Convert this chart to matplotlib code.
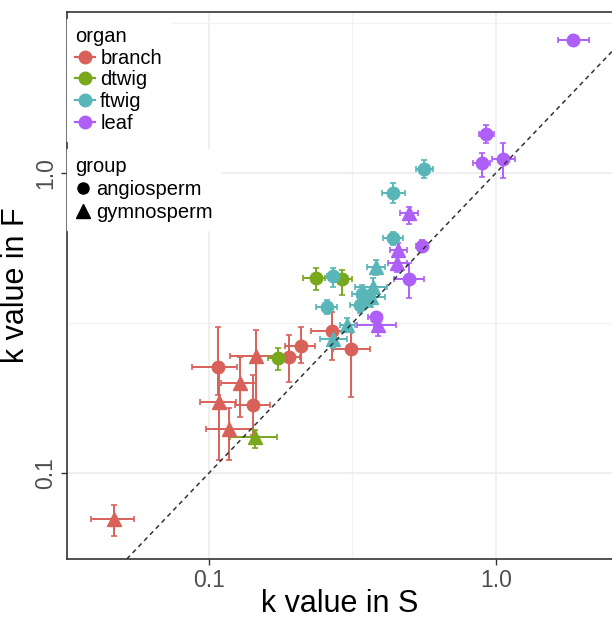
import matplotlib
matplotlib.use('Agg')
import matplotlib.pyplot as plt
from matplotlib.lines import Line2D

# ---------------- data ----------------
organ = ['branch'] * 11 + ['dtwig'] * 4 + ['ftwig'] * 12 + ['leaf'] * 11
group = (['gym', 'ang', 'gym', 'gym', 'gym', 'ang', 'gym', 'ang', 'ang', 'ang', 'ang']
         + ['ang', 'gym', 'ang', 'ang']
         + ['ang', 'ang', 'ang', 'gym', 'ang', 'gym', 'ang', 'gym', 'ang', 'ang', 'gym', 'gym']
         + ['ang', 'ang', 'ang', 'ang', 'gym', 'ang', 'gym', 'gym', 'ang', 'ang', 'gym'])

kS = [0.0467, 0.1075, 0.1458, 0.1282, 0.1083, 0.1423, 0.1174, 0.190, 0.2092, 0.2683, 0.3125,
      0.1739, 0.1446, 0.2360, 0.2906,
      0.5613, 0.4377, 0.4377, 0.3818, 0.2704, 0.3727, 0.3413, 0.3668, 0.3358, 0.2577, 0.3026, 0.2704,
      1.855, 0.9230, 0.8938, 1.058, 0.4975, 0.5524, 0.4555, 0.4518, 0.4975, 0.3818, 0.3879]
kS_lo = [0.0388, 0.0873, 0.1183, 0.1101, 0.0930, 0.1232, 0.0976, 0.1768, 0.1839, 0.2267, 0.2704,
         0.1606, 0.1183, 0.2126, 0.2748,
         0.5263, 0.4007, 0.4039, 0.3552, 0.2577, 0.3226, 0.3150, 0.3358, 0.3100, 0.2360, 0.2861, 0.2436,
         1.644, 0.8726, 0.8315, 0.9684, 0.4628, 0.5263, 0.4271, 0.4205, 0.4412, 0.3581, 0.3279]
kS_hi = [0.0548, 0.1252, 0.1725, 0.1458, 0.1242, 0.1632, 0.1423, 0.2075, 0.2340, 0.3150, 0.3639,
         0.1915, 0.1725, 0.2536, 0.3150,
         0.6034, 0.4818, 0.4742, 0.4105, 0.2861, 0.4172, 0.3698, 0.4105, 0.3698, 0.2793, 0.3226, 0.3026,
         2.109, 0.984, 0.9530, 1.165, 0.5348, 0.5795, 0.4896, 0.4896, 0.5613, 0.4007, 0.4482]

kF = [0.0703, 0.2256, 0.2455, 0.1995, 0.1724, 0.1685, 0.1401, 0.2435, 0.265, 0.2974, 0.259,
      0.2416, 0.1318, 0.4467, 0.4432,
      1.031, 0.8577, 0.6072, 0.4861, 0.4535, 0.4169, 0.395, 0.386, 0.3631, 0.3576, 0.3113, 0.2797,
      2.776, 1.349, 1.080, 1.113, 0.7356, 0.5710, 0.5540, 0.5012, 0.4432, 0.3311, 0.3113]
kF_lo = [0.0617, 0.182, 0.1685, 0.1537, 0.1105, 0.1338, 0.1105, 0.201, 0.2326, 0.2380, 0.1792,
         0.2205, 0.1212, 0.4074, 0.3920,
         0.9623, 0.7943, 0.5754, 0.4571, 0.4169, 0.3920, 0.3687, 0.3576, 0.3415, 0.3388, 0.2951, 0.2611,
         2.671, 1.259, 0.9698, 0.9623, 0.6761, 0.5453, 0.5248, 0.4677, 0.3831, 0.3066, 0.2862]
kF_hi = [0.0782, 0.3066, 0.2996, 0.2435, 0.2291, 0.2122, 0.1647, 0.2884, 0.3066, 0.344, 0.2996,
         0.2611, 0.1391, 0.4825, 0.4751,
         1.105, 0.9261, 0.6358, 0.5129, 0.4825, 0.4467, 0.4231, 0.4074, 0.3831, 0.3774, 0.3286, 0.2929,
         2.884, 1.445, 1.166, 1.259, 0.7703, 0.5979, 0.5843, 0.5330, 0.5012, 0.344, 0.3236]

organ_levels = ['branch', 'dtwig', 'ftwig', 'leaf']
organ_colors = {'branch': '#D8625A', 'dtwig': '#78A81C', 'ftwig': '#58B6B9', 'leaf': '#AE5FF7'}
group_levels = ['angiosperm', 'gymnosperm']
group_markers = {'ang': 'o', 'gym': '^'}

x_ticks = [0.1, 1.0]
x_tick_labels = ['0.1', '1.0']
y_ticks = [0.1, 1.0]
y_tick_labels = ['0.1', '1.0']

# ---------------- figure ----------------
plt.rcParams['font.family'] = ['Liberation Sans', 'DejaVu Sans']
fig = plt.figure(figsize=(6.12, 6.19), dpi=100)
ax = fig.add_axes([67 / 612, 1 - 559 / 619, 545 / 612, 547 / 619])
ax.set_xscale('log')
ax.set_yscale('log')

# grid / ticks
ax.set_xticks(x_ticks)
ax.set_xticklabels(x_tick_labels)
ax.set_yticks(y_ticks)
ax.set_yticklabels(y_tick_labels, rotation=90, va='center')
ax.set_xticks([0.0316, 0.316], minor=True)
ax.set_yticks([0.316, 3.16], minor=True)
ax.xaxis.set_minor_formatter(plt.NullFormatter())
ax.yaxis.set_minor_formatter(plt.NullFormatter())
ax.set_xlim(0.032, 2.54)
ax.set_ylim(0.0517, 3.44)
ax.grid(True, which='major', color='#EBEBEB', linewidth=1.1, zorder=0)
ax.grid(True, which='minor', color='#F2F2F2', linewidth=0.9, zorder=0)
ax.set_axisbelow(True)
ax.tick_params(which='minor', length=0)
ax.tick_params(which='major', length=4, width=1, color='#333333',
               labelsize=16.5, labelcolor='#4D4D4D', pad=3)

for s in ['left', 'bottom', 'top']:
    ax.spines[s].set_color('#333333')
    ax.spines[s].set_linewidth(1.2)
ax.spines['right'].set_visible(False)

# points with error bars
for i in range(len(kS)):
    c = organ_colors[organ[i]]
    m = group_markers[group[i]]
    ms = 10.5 if m == '^' else 9
    ax.errorbar(kS[i], kF[i],
                xerr=[[kS[i] - kS_lo[i]], [kS_hi[i] - kS[i]]],
                yerr=[[kF[i] - kF_lo[i]], [kF_hi[i] - kF[i]]],
                fmt=m, color=c, ms=ms, mec=c, elinewidth=1.4, capsize=2, capthick=1.2,
                zorder=3)

# 1:1 line
ax.axline((0.1, 0.1), (1.0, 1.0), color='#333333', linestyle=(0, (3, 2.5)),
          linewidth=1.1, zorder=4)
ax.set_xlim(0.032, 2.54)
ax.set_ylim(0.0517, 3.44)

ax.set_xlabel('k value in S', fontsize=22, labelpad=-2)
ax.set_ylabel('k value in F', fontsize=22, labelpad=2)

# legends
h1 = [Line2D([], [], color=organ_colors[o], marker='o', ms=9, lw=1.6) for o in organ_levels]
leg1 = ax.legend(h1, organ_levels, title='organ', loc='upper left',
                 bbox_to_anchor=(0.0, 0.987), fontsize=14.5, title_fontsize=14.5,
                 frameon=True, fancybox=False, edgecolor='white', framealpha=1,
                 handlelength=1.0, handletextpad=0.25, labelspacing=0.13,
                 borderpad=0.4, borderaxespad=0.0, alignment='left')
ax.add_artist(leg1)
h2 = [Line2D([], [], color='black', marker='o', ms=8, ls='none'),
      Line2D([], [], color='black', marker='^', ms=9.5, ls='none')]
leg2 = ax.legend(h2, group_levels, title='group', loc='upper left',
                 bbox_to_anchor=(0.0, 0.75), fontsize=14.5, title_fontsize=14.5,
                 frameon=True, fancybox=False, edgecolor='white', framealpha=1,
                 handlelength=0.8, handletextpad=0.25, labelspacing=0.2,
                 borderpad=0.4, borderaxespad=0.0, alignment='left')
leg1.set_zorder(5)
leg2.set_zorder(5)

fig.savefig('out.png', dpi=100)
